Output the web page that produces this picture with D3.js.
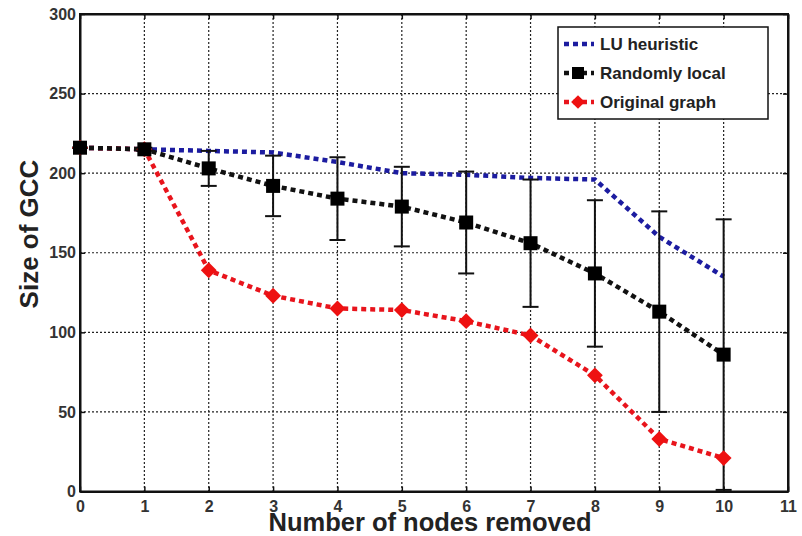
<!DOCTYPE html>
<html>
<head>
<meta charset="utf-8">
<script src="https://cdn.jsdelivr.net/npm/d3@7"></script>
<style>
  html, body { margin: 0; padding: 0; background: #fff; overflow: hidden; }
  svg { display: block; }
  svg text { font-family: "Liberation Sans", Arial, sans-serif; font-weight: bold; }
</style>
</head>
<body>
<div id="chart"></div>
<script>
//-- data
const nodesRemoved = [0, 1, 2, 3, 4, 5, 6, 7, 8, 9, 10];
const luHeuristic = [216, 215, 214, 213, 207, 200, 199, 197, 196, 160, 135];
const randomlyLocal = [216, 215, 203, 192, 184, 179, 169, 156, 137, 113, 86];
const randomlyLocalErr = [0, 1, 11, 19, 26, 25, 32, 40, 46, 63, 85];
const originalGraph = [216, 215, 139, 123, 115, 114, 107, 98, 73, 33, 21];
const xTicks = [0, 1, 2, 3, 4, 5, 6, 7, 8, 9, 10, 11];
const yTicks = [0, 50, 100, 150, 200, 250, 300];

//-- dimensions
const width = 802;
const height = 536;
const margin = { top: 14, right: 14, bottom: 45, left: 80 };
const innerWidth = 788 - margin.left;
const innerHeight = 491.5 - margin.top;

const svg = d3.select("#chart").append("svg")
  .attr("width", width)
  .attr("height", height);

const g = svg.append("g")
  .attr("transform", `translate(${margin.left},${margin.top})`);

const x = d3.scaleLinear().domain([0, 11]).range([0, innerWidth]);
const y = d3.scaleLinear().domain([0, 300]).range([innerHeight, 0]);

//-- grid
const gridDash = "2,2";
g.append("g").selectAll("line")
  .data(xTicks.slice(1, -1))
  .join("line")
  .attr("x1", d => x(d)).attr("x2", d => x(d))
  .attr("y1", 0).attr("y2", innerHeight)
  .attr("stroke", "#222").attr("stroke-width", 1.2)
  .attr("stroke-dasharray", gridDash);
g.append("g").selectAll("line")
  .data(yTicks.slice(1, -1))
  .join("line")
  .attr("x1", 0).attr("x2", innerWidth)
  .attr("y1", d => y(d)).attr("y2", d => y(d))
  .attr("stroke", "#222").attr("stroke-width", 1.2)
  .attr("stroke-dasharray", gridDash);

//-- axes
const xAxis = g.append("g")
  .attr("transform", `translate(0,${innerHeight})`)
  .call(d3.axisBottom(x).tickValues(xTicks).tickSizeInner(-5).tickSizeOuter(0).tickPadding(9));
const yAxis = g.append("g")
  .call(d3.axisLeft(y).tickValues(yTicks).tickSizeInner(-5).tickSizeOuter(0).tickPadding(4));
// top and right ticks
const topAxis = g.append("g")
  .call(d3.axisTop(x).tickValues(xTicks).tickSizeInner(-5).tickSizeOuter(0));
const rightAxis = g.append("g")
  .attr("transform", `translate(${innerWidth},0)`)
  .call(d3.axisRight(y).tickValues(yTicks).tickSizeInner(-5).tickSizeOuter(0));
topAxis.selectAll("text").remove();
rightAxis.selectAll("text").remove();

svg.selectAll(".domain").attr("stroke", "#111").attr("stroke-width", 2);
svg.selectAll(".tick line").attr("stroke", "#111").attr("stroke-width", 1.5);
xAxis.selectAll("text").attr("font-size", 16).attr("fill", "#333");
yAxis.selectAll("text").attr("font-size", 16).attr("fill", "#333");

g.append("rect")
  .attr("width", innerWidth).attr("height", innerHeight)
  .attr("fill", "none").attr("stroke", "#111").attr("stroke-width", 2);

//-- lines
const line = (vals) => d3.line()
  .x((d, i) => x(nodesRemoved[i]))
  .y(d => y(d))(vals);

const dash = "5,4";
g.append("path").attr("d", line(luHeuristic))
  .attr("fill", "none").attr("stroke", "#1c1ca0").attr("stroke-width", 4.5)
  .attr("stroke-dasharray", dash);

g.append("path").attr("d", line(originalGraph))
  .attr("fill", "none").attr("stroke", "#e8141c").attr("stroke-width", 4.5)
  .attr("stroke-dasharray", dash);

//-- error bars
const eb = g.append("g").selectAll("g")
  .data(randomlyLocal.map((v, i) => ({ x: nodesRemoved[i], v, e: randomlyLocalErr[i] })))
  .join("g");
eb.append("line")
  .attr("x1", d => x(d.x)).attr("x2", d => x(d.x))
  .attr("y1", d => y(d.v - d.e)).attr("y2", d => y(d.v + d.e))
  .attr("stroke", "#111").attr("stroke-width", 2);
eb.append("line")
  .attr("x1", d => x(d.x) - 8).attr("x2", d => x(d.x) + 8)
  .attr("y1", d => y(d.v - d.e)).attr("y2", d => y(d.v - d.e))
  .attr("stroke", "#111").attr("stroke-width", 2);
eb.append("line")
  .attr("x1", d => x(d.x) - 8).attr("x2", d => x(d.x) + 8)
  .attr("y1", d => y(d.v + d.e)).attr("y2", d => y(d.v + d.e))
  .attr("stroke", "#111").attr("stroke-width", 2);

g.append("path").attr("d", line(randomlyLocal))
  .attr("fill", "none").attr("stroke", "#111").attr("stroke-width", 4.5)
  .attr("stroke-dasharray", dash);

//-- markers
g.append("g").selectAll("path")
  .data(originalGraph)
  .join("path")
  .attr("d", d3.symbol(d3.symbolDiamond2, 160))
  .attr("transform", (d, i) => `translate(${x(nodesRemoved[i])},${y(d)})`)
  .attr("fill", "#ee1111");

g.append("g").selectAll("rect")
  .data(randomlyLocal)
  .join("rect")
  .attr("x", (d, i) => x(nodesRemoved[i]) - 7)
  .attr("y", d => y(d) - 7)
  .attr("width", 14).attr("height", 14)
  .attr("fill", "#000");

//-- legend
const legend = svg.append("g").attr("transform", "translate(558,27)");
legend.append("rect")
  .attr("width", 210).attr("height", 92)
  .attr("fill", "#fff").attr("stroke", "#111").attr("stroke-width", 1.5);
const legendItems = [
  { name: "LU heuristic", color: "#1c1ca0", marker: null },
  { name: "Randomly local", color: "#111", marker: "square" },
  { name: "Original graph", color: "#e8141c", marker: "diamond" }
];
legendItems.forEach((d, i) => {
  const ly = 17 + i * 29;
  legend.append("line")
    .attr("x1", 6).attr("x2", 36).attr("y1", ly).attr("y2", ly)
    .attr("stroke", d.color).attr("stroke-width", 4.5).attr("stroke-dasharray", dash);
  if (d.marker === "square") {
    legend.append("rect").attr("x", 14).attr("y", ly - 6).attr("width", 12).attr("height", 12).attr("fill", "#000");
  } else if (d.marker === "diamond") {
    legend.append("path").attr("d", d3.symbol(d3.symbolDiamond2, 120))
      .attr("transform", `translate(20,${ly})`).attr("fill", "#ee1111");
  }
  legend.append("text")
    .attr("x", 42).attr("y", ly + 6)
    .attr("font-size", 17).attr("fill", "#222")
    .text(d.name);
});

//-- axis titles
svg.append("text")
  .attr("x", 430).attr("y", 531)
  .attr("text-anchor", "middle").attr("font-size", 25.5).attr("fill", "#222")
  .text("Number of nodes removed");
svg.append("text")
  .attr("transform", "translate(38,234) rotate(-90)")
  .attr("text-anchor", "middle").attr("font-size", 26).attr("fill", "#222")
  .text("Size of GCC");
</script>
</body>
</html>
